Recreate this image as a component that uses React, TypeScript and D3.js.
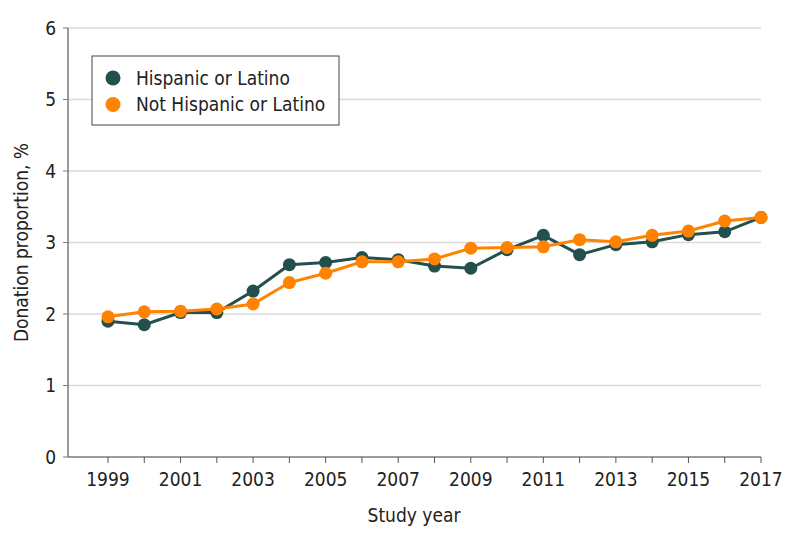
import * as d3 from 'd3';

// data
const years = [1999, 2000, 2001, 2002, 2003, 2004, 2005, 2006, 2007, 2008, 2009, 2010, 2011, 2012, 2013, 2014, 2015, 2016, 2017];
const hispanic = [1.90, 1.85, 2.02, 2.02, 2.32, 2.69, 2.72, 2.79, 2.76, 2.67, 2.64, 2.90, 3.10, 2.83, 2.97, 3.01, 3.11, 3.15, 3.35];
const notHispanic = [1.96, 2.03, 2.04, 2.07, 2.14, 2.44, 2.57, 2.73, 2.73, 2.77, 2.92, 2.93, 2.94, 3.04, 3.01, 3.10, 3.16, 3.30, 3.35];
const yTicks = [0, 1, 2, 3, 4, 5, 6];
const xTickLabels = [1999, 2001, 2003, 2005, 2007, 2009, 2011, 2013, 2015, 2017];

const series = [
  { name: 'Hispanic or Latino', values: hispanic, color: '#23504c' },
  { name: 'Not Hispanic or Latino', values: notHispanic, color: '#ff8300' },
];

const W = 794;
const H = 542;
const FONT = '"DejaVu Sans Condensed", "Liberation Sans Narrow", "DejaVu Sans", sans-serif';

export default function App() {
  const left = 68;
  const right = 761;
  const top = 28;
  const bottom = 457;

  const x = d3.scaleLinear().domain([1999, 2017]).range([108, right]);
  const y = d3.scaleLinear().domain([0, 6]).range([bottom, top]);

  const line = d3
    .line<number>()
    .x((_, i) => x(years[i]))
    .y((d) => y(d));

  return (
    <svg width={W} height={H} style={{ position: 'absolute', left: 0, top: 0, background: '#fff' }} fontFamily={FONT}>
      {/* gridlines */}
      {yTicks.filter((t) => t > 0).map((t) => (
        <line key={'g' + t} x1={left} x2={right} y1={y(t)} y2={y(t)} stroke="#d9d9d9" strokeWidth={1.5} />
      ))}

      {/* y axis */}
      <line x1={left} x2={left} y1={top} y2={bottom} stroke="#7a7a7a" strokeWidth={1.5} />
      {yTicks.map((t) => (
        <g key={'y' + t}>
          <line x1={left - 5} x2={left} y1={y(t)} y2={y(t)} stroke="#7a7a7a" strokeWidth={1} />
          <text x={left - 12} y={y(t)} dy="0.36em" textAnchor="end" fontSize={19} fill="#222">
            {t}
          </text>
        </g>
      ))}

      {/* x axis */}
      <line x1={left} x2={right} y1={bottom} y2={bottom} stroke="#7a7a7a" strokeWidth={1.5} />
      {years.map((yr) => (
        <line key={'xt' + yr} x1={x(yr)} x2={x(yr)} y1={bottom} y2={bottom + 6} stroke="#555" strokeWidth={1} />
      ))}
      {xTickLabels.map((yr) => (
        <text key={'xl' + yr} x={x(yr)} y={bottom + 29} textAnchor="middle" fontSize={19} fill="#222">
          {yr}
        </text>
      ))}

      {/* axis titles */}
      <text x={414} y={522} textAnchor="middle" fontSize={19} fill="#222">
        Study year
      </text>
      <text
        transform={`translate(28,${(top + bottom) / 2}) rotate(-90)`}
        textAnchor="middle"
        fontSize={19}
        fill="#222"
      >
        Donation proportion, %
      </text>

      {/* series */}
      {series.map((s) => (
        <g key={s.name}>
          <path d={line(s.values) || ''} fill="none" stroke={s.color} strokeWidth={3} />
          {s.values.map((v, i) => (
            <circle key={i} cx={x(years[i])} cy={y(v)} r={6.5} fill={s.color} />
          ))}
        </g>
      ))}

      {/* legend */}
      <rect x={92} y={56} width={247} height={69} fill="#fff" stroke="#444" strokeWidth={1} />
      {series.map((s, i) => (
        <g key={'lg' + s.name} transform={`translate(113,${78 + i * 26.5})`}>
          <circle r={7.5} fill={s.color} />
          <text x={23} dy="0.36em" fontSize={19} fill="#222">
            {s.name}
          </text>
        </g>
      ))}
    </svg>
  );
}
